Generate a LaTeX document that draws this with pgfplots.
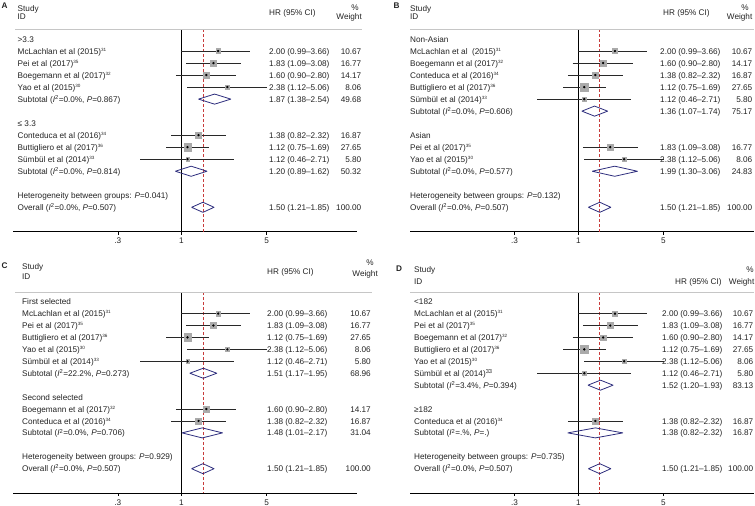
\documentclass[border=0pt]{standalone}
\usepackage{pgfplots}
\pgfplotsset{compat=1.18}
\usepackage{fontspec}
\setmainfont{Liberation Sans}

\newcommand\fsz{\fontsize{8.2}{9.5}\selectfont}
\newcommand\sups[1]{\textsuperscript{\fontsize{4.6}{5}\selectfont #1}}
\newcommand\Isq{\textit{I}\textsuperscript{2}}
\newcommand\Pv{\textit{P}}

\definecolor{diamc}{RGB}{45,45,125}
\definecolor{refred}{RGB}{200,60,60}
\definecolor{sqgray}{RGB}{170,170,170}
\definecolor{txt}{RGB}{35,35,35}
\definecolor{cic}{RGB}{40,40,40}

% text in picture pixels: x in px, y from row index (\RZ = px of row 0, \RS = row step)
\newcommand\Lt[3]{\node[anchor=base west,inner sep=0pt,font=\fsz,text=txt] at (#1pt,{-(\RZ+\RS*(#2))*1pt-3pt}) {#3};}
\newcommand\Rt[3]{\node[anchor=base east,inner sep=0pt,font=\fsz,text=txt] at (#1pt,{-(\RZ+\RS*(#2))*1pt-3pt}) {#3};}
\newcommand\Ct[3]{\node[anchor=base,inner sep=0pt,font=\fsz,text=txt] at (#1pt,{-(\RZ+\RS*(#2))*1pt-3pt}) {#3};}
\newcommand\Lab[2]{\Lt{\LX}{#1}{#2}}
\newcommand\Val[3]{\Lt{\HX}{#1}{#2}\Rt{\WX}{#1}{#3}}

% one study: row (negative), HR, lower, upper, weight
\newcommand\study[5]{%
  \addplot[color=cic, line width=0.7pt, mark=none] coordinates {(#3,#1) (#4,#1)};
  \addplot[only marks, mark=square*, color=sqgray, mark size={0.72*sqrt(#5)}] coordinates {(#2,#1)};
  \addplot[only marks, mark=*, mark size=0.95pt, black] coordinates {(#2,#1)};
}
% pooled diamond: row, top, bottom, HR, lower, upper
\newcommand\dia[6]{%
  \addplot[draw=diamc, line width=0.8pt, line join=round, mark=none] coordinates {(#5,#1) (#4,#2) (#6,#1) (#4,#3) (#5,#1)};
}
% line of no effect and overall estimate
\newcommand\refs{%
  \addplot[black, line width=0.8pt, mark=none] coordinates {(1,0.8) (1,-16.03)};
  \addplot[draw=refred, line width=0.9pt, densely dashed, mark=none] coordinates {(1.5,0.8) (1.5,-16.03)};
}

\pgfplotsset{
  forest/.style={
    scale only axis, width=343.7pt,
    xmin=0.04159, xmax=27.6,
    ymin=-16.03, ymax=0.8,
    axis x line=bottom, axis y line=none,
    x axis line style={-, black, line width=0.7pt},
    xtick={0.3,1,5}, xticklabels={.3,1,5},
    xminorticks=false,
    tick align=outside, major tick length=3pt,
    xtick style={black, line width=0.6pt},
    xticklabel style={font=\fsz, text=txt},
    clip=false,
  }
}

\begin{document}
\begin{tikzpicture}
\useasboundingbox (0,0) rectangle (755pt,-506pt);

% ---------------- A ----------------
\begin{axis}[xmode=log, forest, anchor=south west, at={(13.3pt,-231.7pt)}, height=202.3pt]
\refs
\study{-1}{2.00}{0.99}{3.66}{10.67}
\study{-2}{1.83}{1.09}{3.08}{16.77}
\study{-3}{1.60}{0.90}{2.80}{14.17}
\study{-4}{2.38}{1.12}{5.06}{8.06}
\dia{-5}{-4.58}{-5.42}{1.87}{1.38}{2.54}
\study{-8}{1.38}{0.82}{2.32}{16.87}
\study{-9}{1.12}{0.75}{1.69}{27.65}
\study{-10}{1.12}{0.46}{2.71}{5.80}
\dia{-11}{-10.58}{-11.42}{1.20}{0.89}{1.62}
\dia{-14}{-13.58}{-14.42}{1.50}{1.21}{1.85}
\end{axis}

% ---------------- B ----------------
\begin{axis}[xmode=log, forest, anchor=south west, at={(410.1pt,-231.7pt)}, height=202.3pt]
\refs
\study{-1}{2.00}{0.99}{3.66}{10.67}
\study{-2}{1.60}{0.90}{2.80}{14.17}
\study{-3}{1.38}{0.82}{2.32}{16.87}
\study{-4}{1.12}{0.75}{1.69}{27.65}
\study{-5}{1.12}{0.46}{2.71}{5.80}
\dia{-6}{-5.58}{-6.42}{1.36}{1.07}{1.74}
\study{-9}{1.83}{1.09}{3.08}{16.77}
\study{-10}{2.38}{1.12}{5.06}{8.06}
\dia{-11}{-10.58}{-11.42}{1.99}{1.30}{3.06}
\dia{-14}{-13.58}{-14.42}{1.50}{1.21}{1.85}
\end{axis}

% ---------------- C ----------------
\begin{axis}[xmode=log, forest, anchor=south west, at={(13.3pt,-492.9pt)}, height=200.8pt]
\refs
\study{-1}{2.00}{0.99}{3.66}{10.67}
\study{-2}{1.83}{1.09}{3.08}{16.77}
\study{-3}{1.12}{0.75}{1.69}{27.65}
\study{-4}{2.38}{1.12}{5.06}{8.06}
\study{-5}{1.12}{0.46}{2.71}{5.80}
\dia{-6}{-5.58}{-6.42}{1.51}{1.17}{1.95}
\study{-9}{1.60}{0.90}{2.80}{14.17}
\study{-10}{1.38}{0.82}{2.32}{16.87}
\dia{-11}{-10.58}{-11.42}{1.48}{1.01}{2.17}
\dia{-14}{-13.58}{-14.42}{1.50}{1.21}{1.85}
\end{axis}

% ---------------- D ----------------
\begin{axis}[xmode=log, forest, anchor=south west, at={(410.1pt,-492.9pt)}, height=200.8pt]
\refs
\study{-1}{2.00}{0.99}{3.66}{10.67}
\study{-2}{1.83}{1.09}{3.08}{16.77}
\study{-3}{1.60}{0.90}{2.80}{14.17}
\study{-4}{1.12}{0.75}{1.69}{27.65}
\study{-5}{2.38}{1.12}{5.06}{8.06}
\study{-6}{1.12}{0.46}{2.71}{5.80}
\dia{-7}{-6.58}{-7.42}{1.52}{1.20}{1.93}
\study{-10}{1.38}{0.82}{2.32}{16.87}
\dia{-11}{-10.58}{-11.42}{1.38}{0.82}{2.32}
\dia{-14}{-13.58}{-14.42}{1.50}{1.21}{1.85}
\end{axis}

% grey rules under the headers
\draw[gray!45, line width=0.8pt] (15pt,-29.4pt) -- (362pt,-29.4pt);
\draw[gray!45, line width=0.8pt] (410pt,-29.4pt) -- (754pt,-29.4pt);
\draw[gray!45, line width=0.8pt] (15pt,-292.2pt) -- (372pt,-292.2pt);
\draw[gray!45, line width=0.8pt] (410pt,-292.2pt) -- (754pt,-292.2pt);

% ---------------- A text ----------------
\def\RZ{39}\def\RS{12.02}\def\LX{17.5}\def\HX{269}\def\WX{361.5}
\Lt{1.5}{-2.75}{\textbf{A}}
\Lab{-2.55}{Study}
\Lab{-1.87}{ID}
\Lt{269}{-2.19}{HR (95\% CI)}
\Ct{355}{-2.66}{\%}
\Rt{362}{-1.86}{Weight}
\Lab{0}{>3.3}
\Lab{1}{McLachlan et al (2015)\sups{31}}
\Lab{2}{Pei et al (2017)\sups{35}}
\Lab{3}{Boegemann et al (2017)\sups{32}}
\Lab{4}{Yao et al (2015)\sups{30}}
\Lab{5}{Subtotal (\Isq=0.0\%, \Pv=0.867)}
\Lab{7}{≤ 3.3}
\Lab{8}{Conteduca et al (2016)\sups{34}}
\Lab{9}{Buttigliero et al (2017)\sups{36}}
\Lab{10}{Sümbül et al (2014)\sups{33}}
\Lab{11}{Subtotal (\Isq=0.0\%, \Pv=0.814)}
\Lab{13}{Heterogeneity between groups: \Pv=0.041)}
\Lab{14}{Overall (\Isq=0.0\%, \Pv=0.507)}
\Val{1}{2.00 (0.99–3.66)}{10.67}
\Val{2}{1.83 (1.09–3.08)}{16.77}
\Val{3}{1.60 (0.90–2.80)}{14.17}
\Val{4}{2.38 (1.12–5.06)}{8.06}
\Val{5}{1.87 (1.38–2.54)}{49.68}
\Val{8}{1.38 (0.82–2.32)}{16.87}
\Val{9}{1.12 (0.75–1.69)}{27.65}
\Val{10}{1.12 (0.46–2.71)}{5.80}
\Val{11}{1.20 (0.89–1.62)}{50.32}
\Val{14}{1.50 (1.21–1.85)}{100.00}

% ---------------- B text ----------------
\def\RZ{39}\def\RS{12.02}\def\LX{410}\def\HX{660}\def\WX{752.5}
\Lt{393.5}{-2.75}{\textbf{B}}
\Lab{-2.55}{Study}
\Lab{-1.87}{ID}
\Lt{663}{-2.19}{HR (95\% CI)}
\Ct{745}{-2.66}{\%}
\Rt{752.5}{-1.86}{Weight}
\Lab{0}{Non-Asian}
\Lab{1}{McLachlan et al\ \ (2015)\sups{31}}
\Lab{2}{Boegemann et al (2017)\sups{32}}
\Lab{3}{Conteduca et al (2016)\sups{34}}
\Lab{4}{Buttigliero et al (2017)\sups{36}}
\Lab{5}{Sümbül et al (2014)\sups{33}}
\Lab{6}{Subtotal (\Isq=0.0\%, \Pv=0.606)}
\Lab{8}{Asian}
\Lab{9}{Pei et al (2017)\sups{35}}
\Lab{10}{Yao et al (2015)\sups{30}}
\Lab{11}{Subtotal (\Isq=0.0\%, \Pv=0.577)}
\Lab{13}{Heterogeneity between groups: \Pv=0.132)}
\Lab{14}{Overall (\Isq=0.0\%, \Pv=0.507)}
\Val{1}{2.00 (0.99–3.66)}{10.67}
\Val{2}{1.60 (0.90–2.80)}{14.17}
\Val{3}{1.38 (0.82–2.32)}{16.87}
\Val{4}{1.12 (0.75–1.69)}{27.65}
\Val{5}{1.12 (0.46–2.71)}{5.80}
\Val{6}{1.36 (1.07–1.74)}{75.17}
\Val{9}{1.83 (1.09–3.08)}{16.77}
\Val{10}{2.38 (1.12–5.06)}{8.06}
\Val{11}{1.99 (1.30–3.06)}{24.83}
\Val{14}{1.50 (1.21–1.85)}{100.00}

% ---------------- C text ----------------
\def\RZ{301.7}\def\RS{11.93}\def\LX{22}\def\HX{267}\def\WX{371}
\Lt{1.5}{-3.0}{\textbf{C}}
\Lab{-2.93}{Study}
\Lab{-2.10}{ID}
\Lt{267}{-2.55}{HR (95\% CI)}
\Ct{370}{-3.3}{\%}
\Rt{378}{-2.4}{Weight}
\Lab{0}{First selected}
\Lab{1}{McLachlan et al (2015)\sups{31}}
\Lab{2}{Pei et al (2017)\sups{35}}
\Lab{3}{Buttigliero et al (2017)\sups{36}}
\Lab{4}{Yao et al (2015)\sups{30}}
\Lab{5}{Sümbül et al (2014)\sups{33}}
\Lab{6}{Subtotal (\Isq=22.2\%, \Pv=0.273)}
\Lab{8}{Second selected}
\Lab{9}{Boegemann et al (2017)\sups{32}}
\Lab{10}{Conteduca et al (2016)\sups{34}}
\Lab{11}{Subtotal (\Isq=0.0\%, \Pv=0.706)}
\Lab{13}{Heterogeneity between groups: \Pv=0.929)}
\Lab{14}{Overall (\Isq=0.0\%, \Pv=0.507)}
\Val{1}{2.00 (0.99–3.66)}{10.67}
\Val{2}{1.83 (1.09–3.08)}{16.77}
\Val{3}{1.12 (0.75–1.69)}{27.65}
\Val{4}{2.38 (1.12–5.06)}{8.06}
\Val{5}{1.12 (0.46–2.71)}{5.80}
\Val{6}{1.51 (1.17–1.95)}{68.96}
\Val{9}{1.60 (0.90–2.80)}{14.17}
\Val{10}{1.38 (0.82–2.32)}{16.87}
\Val{11}{1.48 (1.01–2.17)}{31.04}
\Val{14}{1.50 (1.21–1.85)}{100.00}

% ---------------- D text ----------------
\def\RZ{301.7}\def\RS{11.93}\def\LX{414}\def\HX{662}\def\WX{753.5}
\Lt{396}{-2.8}{\textbf{D}}
\Lab{-2.66}{Study}
\Lab{-1.68}{ID}
\Lt{675}{-1.68}{HR (95\% CI)}
\Ct{750}{-2.66}{\%}
\Rt{754.5}{-1.68}{Weight}
\Lab{0}{<182}
\Lab{1}{McLachlan et al (2015)\sups{31}}
\Lab{2}{Pei et al (2017)\sups{35}}
\Lab{3}{Boegemann et al (2017)\sups{32}}
\Lab{4}{Buttigliero et al (2017)\sups{36}}
\Lab{5}{Yao et al (2015)\sups{30}}
\Lab{6}{Sümbül et al (2014)\textsuperscript{33}}
\Lab{7}{Subtotal (\Isq=3.4\%, \Pv=0.394)}
\Lab{9}{≥182}
\Lab{10}{Conteduca et al (2016)\sups{34}}
\Lab{11}{Subtotal (\Isq=.\%, \Pv=.)}
\Lab{13}{Heterogeneity between groups: \Pv=0.735)}
\Lab{14}{Overall (\Isq=0.0\%, \Pv=0.507)}
\Val{1}{2.00 (0.99–3.66)}{10.67}
\Val{2}{1.83 (1.09–3.08)}{16.77}
\Val{3}{1.60 (0.90–2.80)}{14.17}
\Val{4}{1.12 (0.75–1.69)}{27.65}
\Val{5}{2.38 (1.12–5.06)}{8.06}
\Val{6}{1.12 (0.46–2.71)}{5.80}
\Val{7}{1.52 (1.20–1.93)}{83.13}
\Val{10}{1.38 (0.82–2.32)}{16.87}
\Val{11}{1.38 (0.82–2.32)}{16.87}
\Val{14}{1.50 (1.21–1.85)}{100.00}
\end{tikzpicture}
\end{document}
